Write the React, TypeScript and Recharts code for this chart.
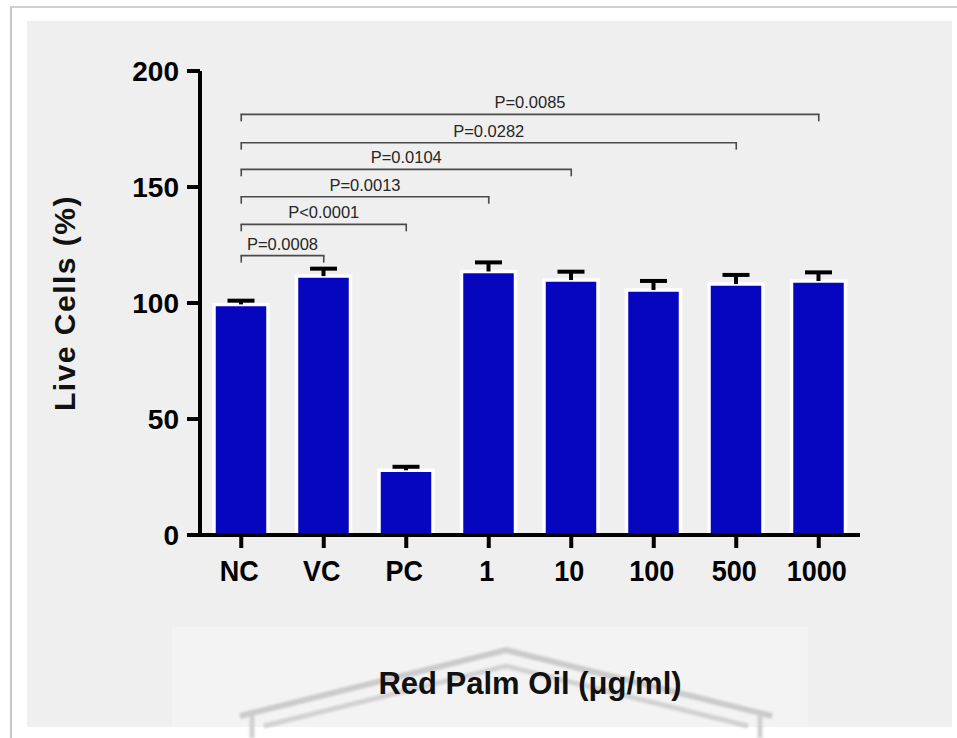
import React from 'react';
import { ComposedChart, Bar, XAxis, YAxis, ReferenceLine, LabelList } from 'recharts';

// cell viability per treatment group (mean ± SEM, % of control)
const groups = ['NC', 'VC', 'PC', '1', '10', '100', '500', '1000'];
const liveCells = [99.4, 111.6, 27.9, 113.6, 109.9, 105.6, 108.2, 109.5];
const sem = [1.6, 3.2, 1.5, 3.9, 3.6, 3.9, 3.9, 3.7];
const yTicks = [0, 50, 100, 150, 200];

// pairwise comparisons, all against NC
const compareTo = ['VC', 'PC', '1', '10', '500', '1000'];
const pValues = ['P=0.0008', 'P<0.0001', 'P=0.0013', 'P=0.0104', 'P=0.0282', 'P=0.0085'];
const bracketLevels = [120.4, 133.9, 145.8, 157.6, 169.1, 181.3];
const bracketDrop = 3;

const data = groups.map((g, i) => ({ group: g, mean: liveCells[i] }));

const FONT = '"Liberation Sans", Arial, Helvetica, sans-serif';
const BAR_BLUE = '#0606BE';

// upper-only SEM whisker, sized from the bar's own pixel scale
const renderErrorCap = (props: any) => {
  const vb = props.viewBox ?? props;
  const { x, y, width, height } = vb;
  const value = props.value;
  const idx = props.index;
  if (!value || height == null) return null;
  const perUnit = height / value;
  const top = y - sem[idx] * perUnit;
  const cx = x + width / 2;
  return (
    <g key={`err-${idx}`}>
      <line x1={cx} x2={cx} y1={y} y2={top} stroke="#000" strokeWidth={4} />
      <line x1={cx - 13.5} x2={cx + 13.5} y1={top} y2={top} stroke="#000" strokeWidth={4} />
    </g>
  );
};

// slightly condensed category labels
const GroupTick = (props: any) => {
  const { x, y, payload } = props;
  return (
    <text
      transform={`translate(${x - 2}, ${y + 31}) scale(0.9, 1)`}
      textAnchor="middle"
      fontFamily={FONT}
      fontWeight={700}
      fontSize={30}
      fill="#000"
    >
      {payload.value}
    </text>
  );
};

const renderXTitle = (props: any) => {
  const vb = props.viewBox;
  return (
    <text
      x={vb.x + vb.width / 2}
      y={vb.y + 159}
      textAnchor="middle"
      fontFamily={FONT}
      fontWeight={700}
      fontSize={31}
      fill="#111"
    >
      Red Palm Oil (μg/ml)
    </text>
  );
};

const renderYTitle = (props: any) => {
  const vb = props.viewBox;
  const cx = 75;
  const cy = vb.y + vb.height / 2;
  return (
    <text
      x={cx}
      y={cy}
      transform={`rotate(-90, ${cx}, ${cy})`}
      textAnchor="middle"
      fontFamily={FONT}
      fontWeight={700}
      fontSize={30}
      letterSpacing={1.5}
      fill="#111"
    >
      Live Cells (%)
    </text>
  );
};

export default function App() {
  return (
    <div style={{ position: 'absolute', left: 0, top: 0, width: 957, height: 738, background: '#fff', overflow: 'hidden' }}>
      {/* page frame */}
      <div
        style={{
          position: 'absolute',
          left: 10,
          top: 6,
          width: 947,
          height: 732,
          borderLeft: '2px solid #c6c6c6',
          borderTop: '2px solid #d0d0d0',
        }}
      />
      <div style={{ position: 'absolute', left: 27, top: 21, width: 925, height: 706, background: '#efefef' }} />
      <div style={{ position: 'absolute', left: 172, top: 627, width: 636, height: 100, background: '#f3f3f3' }} />
      <svg width={957} height={738} style={{ position: 'absolute', left: 0, top: 0, filter: 'blur(1.2px)' }}>
        <polyline points="240,716 506,650 772,716" fill="none" stroke="#cbcbcb" strokeWidth={6} />
        <polyline points="264,726 506,666 748,726" fill="none" stroke="#d2d2d2" strokeWidth={5} />
        <line x1={252} x2={252} y1={716} y2={738} stroke="#d0d0d0" strokeWidth={5} />
        <line x1={760} x2={760} y1={716} y2={738} stroke="#d0d0d0" strokeWidth={5} />
      </svg>

      <div style={{ position: 'absolute', left: 0, top: 0 }}>
        <ComposedChart width={957} height={738} data={data} margin={{ top: 71, right: 97, bottom: 0, left: 0 }}>
          <XAxis
            dataKey="group"
            type="category"
            interval={0}
            height={203}
            tickSize={13}
            tickMargin={2}
            axisLine={{ stroke: '#000', strokeWidth: 4 }}
            tickLine={{ stroke: '#000', strokeWidth: 4 }}
            tick={<GroupTick />}
            label={{ value: 'Red Palm Oil (μg/ml)', content: renderXTitle }}
          />
          <YAxis
            type="number"
            domain={[0, 200]}
            ticks={yTicks}
            width={200}
            tickSize={13}
            tickMargin={8}
            axisLine={{ stroke: '#000', strokeWidth: 4 }}
            tickLine={{ stroke: '#000', strokeWidth: 4 }}
            tick={{ fontSize: 28, fontWeight: 700, fill: '#000', fontFamily: FONT }}
            label={{ value: 'Live Cells (%)', content: renderYTitle }}
          />
          <Bar dataKey="mean" fill={BAR_BLUE} stroke="#fff" strokeWidth={3.5} barSize={54} isAnimationActive={false}>
            <LabelList dataKey="mean" content={renderErrorCap} />
          </Bar>

          {compareTo.map((g, i) => (
            <ReferenceLine
              key={`h-${g}`}
              segment={[
                { x: 'NC', y: bracketLevels[i] },
                { x: g, y: bracketLevels[i] },
              ]}
              stroke="#4a4a4a"
              strokeWidth={1.6}
              strokeLinecap="square"
              label={{ value: pValues[i], position: 'top', offset: 6, fill: '#262626', fontSize: 16.5, fontFamily: FONT }}
            />
          ))}
          {compareTo.map((g, i) => (
            <ReferenceLine
              key={`l-${g}`}
              segment={[
                { x: 'NC', y: bracketLevels[i] },
                { x: 'NC', y: bracketLevels[i] - bracketDrop },
              ]}
              stroke="#4a4a4a"
              strokeWidth={1.6}
            />
          ))}
          {compareTo.map((g, i) => (
            <ReferenceLine
              key={`r-${g}`}
              segment={[
                { x: g, y: bracketLevels[i] },
                { x: g, y: bracketLevels[i] - bracketDrop },
              ]}
              stroke="#4a4a4a"
              strokeWidth={1.6}
            />
          ))}
        </ComposedChart>
      </div>
    </div>
  );
}
